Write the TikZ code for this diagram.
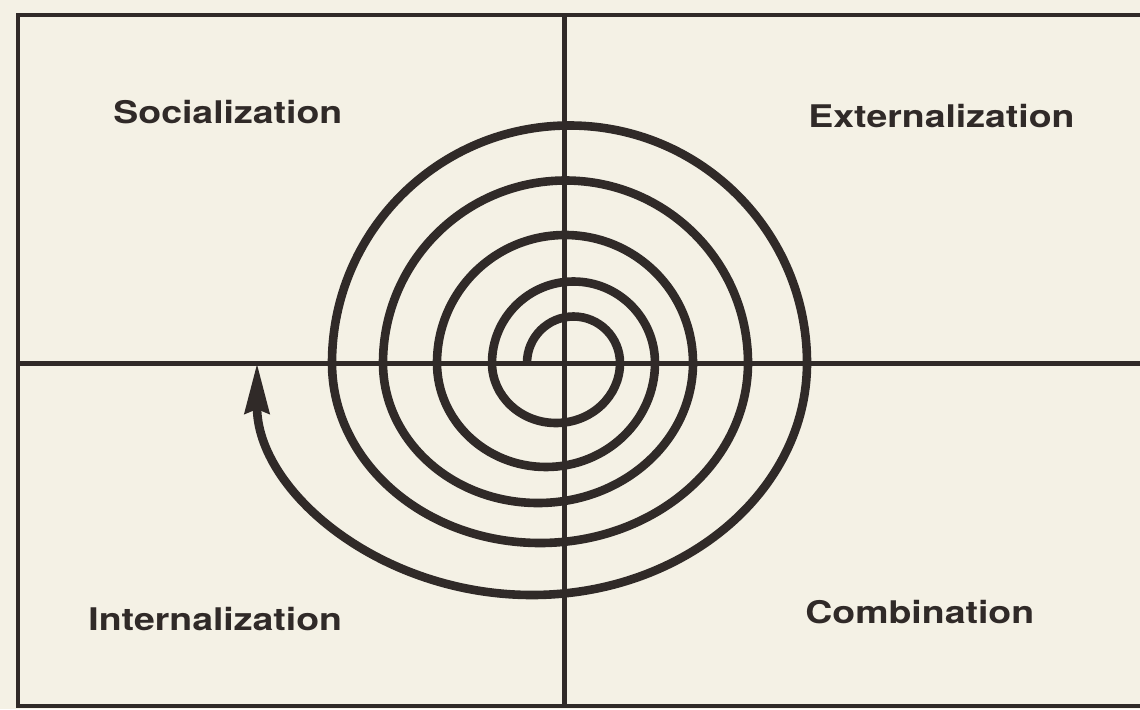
\documentclass[tikz,border=0pt]{standalone}
\usepackage{fontspec}
\usetikzlibrary{arrows.meta}
\newfontfamily\quadfont[FakeStretch=1.2]{TeX Gyre Heros}
\definecolor{paper}{RGB}{244,241,229}
\definecolor{ink}{RGB}{48,42,40}

\begin{document}
\begin{tikzpicture}[
    x=0.5pt, y=0.5pt,
    framebox/.style={draw=ink, line width=2.3pt, line join=miter},
    crossline/.style={draw=ink, line width=2.5pt},
    spiralline/.style={draw=ink, line width=4.3pt},
    quadlabel/.style={
        font=\quadfont\bfseries\fontsize{15.6}{18}\selectfont,
        text=ink,
        inner sep=0pt,
        anchor=base west
    },
    >={Stealth[length=25pt,width=12pt,inset=2pt]}
]

    % page
    \fill[paper] (0,0) rectangle (1140,709);
    \useasboundingbox (0,0) rectangle (1140,709);

    % frame and cross
    \coordinate (tl) at (18,694);
    \coordinate (tr) at (1140,694);
    \coordinate (bl) at (18,3);
    \coordinate (br) at (1140,3);
    \coordinate (ctop) at (564,694);
    \coordinate (cbot) at (564,3);
    \coordinate (cleft) at (18,346);
    \coordinate (cright) at (1140,346);

    \draw[framebox] (tr) -- (tl) -- (bl) -- (br);
    \draw[crossline] (ctop) -- (cbot);
    \draw[crossline] (cleft) -- (cright);

    % spiral (upper half circles, lower half ellipses)
    \coordinate (start) at (527,346);
    \draw[spiralline, ->] (start)
        arc[start angle=180, end angle=0, radius=46.5]
        arc[start angle=0, end angle=-180, x radius=64, y radius=60]
        arc[start angle=180, end angle=0, radius=81.5]
        arc[start angle=0, end angle=-180, x radius=109, y radius=104]
        arc[start angle=180, end angle=0, radius=128]
        arc[start angle=0, end angle=-180, x radius=155, y radius=140]
        arc[start angle=180, end angle=0, radius=182.5]
        arc[start angle=0, end angle=-180, x radius=208, y radius=180]
        arc[start angle=180, end angle=0, radius=237.5]
        arc[start angle=0, end angle=-180, x radius=275, y radius=232];

    % quadrant labels
    \node[quadlabel] (socl) at (113,586) {Socialization};
    \node[quadlabel] (extl) at (808,582) {Externalization};
    \node[quadlabel] (intl) at (88,79) {Internalization};
    \node[quadlabel] (coml) at (805,86) {Combination};

\end{tikzpicture}
\end{document}
